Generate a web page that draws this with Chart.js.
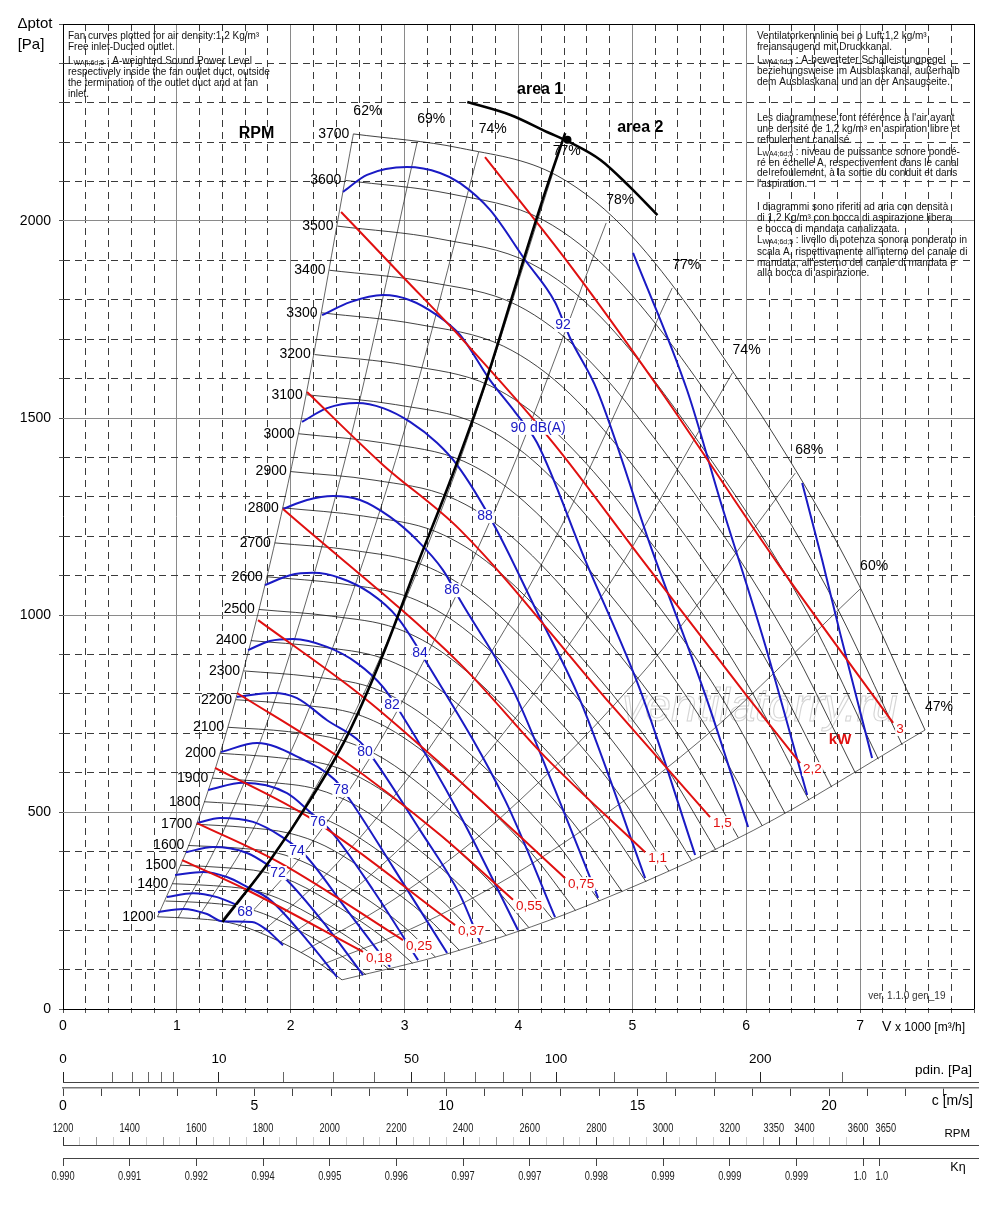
<!DOCTYPE html>
<html>
<head>
<meta charset="utf-8">
<script src="https://cdn.jsdelivr.net/npm/chart.js@4.4.1/dist/chart.umd.min.js"></script>
<style>
  html, body { margin: 0; padding: 0; background: #fff; }
  canvas { display: block; }
</style>
</head>
<body>
<canvas id="fanChart" width="1000" height="1040"></canvas>
<canvas id="flowScales" width="1000" height="76"></canvas>
<canvas id="speedScales" width="1000" height="103"></canvas>
<script>
const FONT = "'Liberation Sans', Arial, Helvetica, sans-serif";
Chart.defaults.font.family = FONT;
Chart.defaults.color = "#000";

// ---- values: V [1000 m3/h], ptot [Pa] ----

// fan speed curves (thin black)
const rpmSpeeds = [1200, 1300, 1400, 1500, 1600, 1700, 1800, 1900, 2000, 2100, 2200, 2300, 2400,
  2500, 2600, 2700, 2800, 2900, 3000, 3100, 3200, 3300, 3400, 3500, 3600, 3700];
const rpmCurves = [
  [[0.83,234],[1.13,230],[1.41,222],[1.62,206],[1.96,163],[2.24,118],[2.45,74]],
  [[0.90,274],[1.23,270],[1.52,261],[1.76,242],[2.12,192],[2.43,138],[2.66,87]],
  [[0.96,318],[1.32,313],[1.64,303],[1.89,281],[2.28,222],[2.61,161],[2.86,101]],
  [[1.03,365],[1.41,359],[1.76,348],[2.03,322],[2.44,255],[2.80,184],[3.07,116]],
  [[1.10,415],[1.51,409],[1.88,396],[2.16,367],[2.61,290],[2.99,210],[3.27,132]],
  [[1.17,469],[1.60,461],[1.99,446],[2.30,414],[2.77,328],[3.18,237],[3.48,149]],
  [[1.24,526],[1.70,517],[2.11,501],[2.43,464],[2.93,368],[3.36,266],[3.68,168]],
  [[1.31,586],[1.79,576],[2.23,558],[2.57,517],[3.10,410],[3.55,296],[3.89,187]],
  [[1.38,649],[1.89,638],[2.35,618],[2.70,573],[3.26,454],[3.73,328],[4.09,207]],
  [[1.45,715],[1.98,704],[2.46,681],[2.84,631],[3.42,500],[3.92,361],[4.30,228]],
  [[1.52,785],[2.08,772],[2.58,748],[2.97,693],[3.59,549],[4.11,397],[4.50,250]],
  [[1.59,858],[2.17,844],[2.70,817],[3.11,757],[3.75,600],[4.30,434],[4.71,274]],
  [[1.65,935],[2.26,919],[2.81,890],[3.24,825],[3.91,654],[4.48,472],[4.91,298]],
  [[1.72,1014],[2.36,997],[2.93,966],[3.38,895],[4.07,709],[4.67,512],[5.12,323]],
  [[1.79,1097],[2.45,1079],[3.05,1044],[3.51,968],[4.24,767],[4.86,554],[5.32,350]],
  [[1.86,1183],[2.55,1164],[3.17,1126],[3.65,1044],[4.40,827],[5.04,597],[5.52,377]],
  [[1.93,1272],[2.64,1251],[3.28,1211],[3.78,1122],[4.56,889],[5.23,643],[5.73,405]],
  [[2.00,1364],[2.74,1342],[3.40,1299],[3.92,1204],[4.73,954],[5.42,689],[5.93,435]],
  [[2.07,1460],[2.83,1436],[3.52,1390],[4.05,1288],[4.89,1021],[5.60,738],[6.14,465]],
  [[2.14,1559],[2.92,1534],[3.64,1485],[4.19,1376],[5.05,1090],[5.79,788],[6.34,497]],
  [[2.21,1661],[3.02,1634],[3.75,1582],[4.32,1466],[5.22,1162],[5.98,839],[6.55,530]],
  [[2.27,1767],[3.11,1738],[3.87,1682],[4.46,1559],[5.38,1235],[6.16,893],[6.75,563]],
  [[2.34,1875],[3.21,1845],[3.99,1786],[4.59,1655],[5.54,1311],[6.35,947],[6.96,598]],
  [[2.41,1987],[3.30,1955],[4.11,1892],[4.73,1754],[5.70,1390],[6.54,1004],[7.16,634]],
  [[2.48,2103],[3.40,2069],[4.22,2002],[4.86,1855],[5.87,1470],[6.72,1062],[7.37,670]],
  [[2.55,2221],[3.49,2185],[4.34,2115],[5.00,1960],[6.03,1553],[6.91,1122],[7.57,708]]
];

// efficiency lines (thin black), bottom -> top
const effLabels = ["62%", "69%", "74%", "77%", "78%", "77%", "74%", "68%", "60%", "47%"];
const effLines = [
  [[0.83,234],[1.15,450],[1.53,800],[2.04,1421],[2.55,2221]],
  [[1.01,231],[1.40,446],[1.87,792],[2.49,1408],[3.11,2200]],
  [[1.18,229],[1.64,440],[2.19,783],[2.92,1392],[3.65,2175]],
  [[1.39,223],[1.94,429],[2.58,763],[3.44,1357],[4.30,2120]],
  [[1.54,209],[2.14,405],[2.86,718],[3.81,1278],[4.77,1995]],
  [[1.74,193],[2.41,371],[3.21,659],[4.28,1171],[5.35,1830]],
  [[1.91,170],[2.65,327],[3.53,581],[4.70,1034],[5.88,1615]],
  [[2.09,143],[2.89,275],[3.86,490],[5.14,870],[6.43,1360]],
  [[2.27,112],[3.15,216],[4.20,384],[5.60,682],[7.00,1066]],
  [[2.45,74],[3.41,143],[4.54,255],[6.06,453],[7.57,708]]
];

// absorbed power lines (red), kW
const kwLabels = ["0,18", "0,25", "0,37", "0,55", "0,75", "1,1", "1,5", "2,2", "3"];
const kwLines = [
  [[1.045,378],[1.616,302],[2.635,145]],
  [[1.177,472],[1.906,371],[2.986,175]],
  [[1.335,612],[2.169,485],[3.443,213]],
  [[1.528,802],[2.433,637],[3.311,442],[3.952,277]],
  [[1.713,987],[2.635,792],[3.311,624],[4.409,332]],
  [[1.932,1269],[3.487,876],[4.233,640],[5.112,398]],
  [[2.143,1566],[2.810,1381],[3.487,1216],[4.778,784],[5.682,487]],
  [[2.442,2023],[2.986,1858],[3.487,1706],[4.304,1437],[5.068,1147],[6.007,794],[6.473,624]],
  [[3.706,2162],[4.470,1881],[5.243,1571],[6.297,1122],[7.290,726]]
];

// sound power lines (blue), dB(A)
const dbLabels = ["68", "72", "74", "76", "78", "80", "82", "84", "86", "88", "90 dB(A)", "92"];
const dbLabelAt = [[1.599,246],[1.888,345],[2.055,401],[2.240,475],[2.442,556],[2.652,652],
  [2.890,772],[3.136,904],[3.416,1063],[3.706,1251],[4.172,1475],[4.391,1736]];
const dbLines = [
  [[0.834,246],[1.054,254],[1.265,241],[1.396,223],[1.660,221],[1.792,200],[1.932,162]],
  [[1.080,398],[1.317,411],[1.616,396],[1.801,365],[1.967,327],[2.319,208],[2.635,86]],
  [[1.177,472],[1.379,485],[1.669,475],[1.923,437],[2.125,391],[2.494,251],[2.872,107]],
  [[1.274,556],[1.581,574],[1.967,548],[2.169,500],[2.345,454],[2.723,302],[3.118,124]],
  [[1.388,652],[1.704,675],[2.082,637],[2.389,581],[2.503,538],[2.898,360],[3.373,142]],
  [[1.528,792],[1.844,802],[2.055,789],[2.319,733],[2.609,678],[2.714,640],[3.135,454],[3.487,289],[3.662,170]],
  [[1.625,911],[1.818,934],[2.020,939],[2.319,919],[2.582,878],[2.811,817],[2.960,754],[3.487,492],[3.996,200]],
  [[1.774,1076],[1.994,1101],[2.196,1107],[2.433,1094],[2.696,1056],[2.933,995],[3.206,873],[3.882,530],[4.321,233]],
  [[1.932,1269],[2.143,1292],[2.372,1302],[2.609,1292],[2.872,1249],[3.109,1190],[3.337,1114],[3.487,1038],[3.952,810],[4.321,556],[4.699,282]],
  [[2.099,1490],[2.319,1525],[2.582,1538],[2.811,1525],[3.048,1490],[3.284,1437],[3.460,1381],[3.777,1233],[4.154,1013],[4.541,784],[5.112,332]],
  [[2.275,1761],[2.521,1794],[2.811,1812],[3.048,1799],[3.284,1761],[3.487,1711],[3.750,1596],[3.970,1515],[4.163,1437],[4.585,1140],[5.068,810],[5.551,391]],
  [[2.459,2074],[2.670,2117],[3.021,2137],[3.311,2122],[3.487,2096],[3.750,2028],[4.058,1901],[4.321,1794],[4.453,1703],[4.690,1571],[5.156,1178],[5.656,784],[6.016,462]]
];
const dbExtraLines = [
  [[0.913,284],[1.142,294],[1.353,284],[1.511,266]],
  [[0.984,340],[1.230,348],[1.440,335],[1.616,310],[1.818,277],[2.143,175],[2.407,81]],
  [[5.006,1919],[5.480,1571],[5.770,1292],[6.166,924],[6.535,543]],
  [[6.491,1335],[6.666,1140],[6.824,954],[7.105,637]]
];

// area 1 / area 2 limits (thick black)
const areaLine = [[1.40,221],[1.82,378],[2.17,530],[2.49,690],[2.81,900],[3.10,1120],
  [3.40,1340],[3.71,1590],[4.00,1860],[4.22,2061],[4.41,2223]];
const areaArc = [[3.55,2302],[3.93,2269],[4.25,2226],[4.45,2200],[4.72,2155],[4.98,2086],[5.22,2015]];
const areaJunction = [[4.43,2206]];

// bottom scales
const pdinTicks = [0, 1, 2, 3, 4, 5, 10, 20, 30, 40, 50, 60, 70, 80, 90, 100, 125, 150, 175, 200, 250];
const pdinLabels = [0, 10, 50, 100, 200];
const velLabels = [0, 5, 10, 15, 20];
const rpmScaleLabels = [1200, 1400, 1600, 1800, 2000, 2200, 2400, 2600, 2800, 3000, 3200, 3350, 3400, 3600, 3650];
const kEtaRpm = [1200, 1400, 1600, 1800, 2000, 2200, 2400, 2600, 2800, 3000, 3200, 3400, 3600, 3650];
const kEtaLabels = ["0.990", "0.991", "0.992", "0.994", "0.995", "0.996", "0.997", "0.997",
  "0.998", "0.999", "0.999", "0.999", "1.0", "1.0"];

// ---- notes printed on the sheet ----
const noteLeft = [
  "Fan curves plotted for air density:1,2 Kg/m³",
  "Free inlet-Ducted outlet.",
  "~ : A-weighted Sound Power Level",
  "respectively inside the fan outlet duct, outside",
  "the termination of the outlet duct and at fan",
  "inlet."
];
const noteLeftY = [36, 47, 61, 72, 83, 94];
const noteRight = [
  "Ventilatorkennlinie bei ρ Luft:1,2 kg/m³",
  "freiansaugend mit Druckkanal.",
  "~ : A-bewerteter Schalleistungpegel",
  "beziehungsweise im Ausblaskanal, außerhalb",
  "dem Ausblaskanal und an der Ansaugseite.",
  "Les diagrammese font référence à l'air ayant",
  "une densité de 1,2 kg/m³ en aspiration libre et",
  "refoulement canalisé.",
  "~ : niveau de puissance sonore pondé-",
  "ré en échelle A, respectivement dans le canal",
  "de refoulement, à la sortie du conduit et dans",
  "l'aspiration.",
  "I diagrammi sono riferiti ad aria con densità",
  "di 1,2 Kg/m³ con bocca di aspirazione libera",
  "e bocca di mandata canalizzata.",
  "~ : livello di potenza sonora ponderato in",
  "scala A, rispettivamente all'interno del canale di",
  "mandata, all'esterno del canale di mandata e",
  "alla bocca di aspirazione."
];
const noteRightY = [36, 47, 60, 71, 82, 118, 129, 140, 152, 163, 173, 184, 207, 218, 229, 240, 252, 263, 273];

const BLUE = "#1a1ac4";
const RED = "#e01010";

function toXY(pts) {
  return pts.map(([x, y]) => ({ x, y }));
}

function lineSet(pts, color, width, order) {
  return {
    data: toXY(pts),
    showLine: true,
    borderColor: color,
    backgroundColor: color,
    borderWidth: width,
    pointRadius: 0,
    pointHoverRadius: 0,
    cubicInterpolationMode: "monotone",
    order: order
  };
}

const datasets = [];
rpmCurves.forEach(c => datasets.push(lineSet(c, "#111", 0.8, 5)));
effLines.forEach(c => datasets.push(lineSet(c, "#222", 0.7, 5)));
dbLines.forEach(c => datasets.push(lineSet(c, BLUE, 2, 3)));
dbExtraLines.forEach(c => datasets.push(lineSet(c, BLUE, 2, 3)));
kwLines.forEach(c => datasets.push(lineSet(c, RED, 2, 2)));
datasets.push(lineSet(areaLine, "#000", 2.6, 1));
datasets.push(lineSet(areaArc, "#000", 2.6, 1));
datasets.push({ data: toXY(areaJunction), pointRadius: 4, backgroundColor: "#000", borderWidth: 0, order: 0 });

function isWhole(v) {
  return Math.abs(v - Math.round(v)) < 1e-6;
}

function labelBox(ctx, text, px, py, color, align) {
  const w = ctx.measureText(text).width;
  const left = align === "left" ? px : px - w / 2;
  ctx.fillStyle = "#fff";
  ctx.fillRect(left - 1, py - 7, w + 2, 14);
  ctx.fillStyle = color;
  ctx.textAlign = align;
  ctx.fillText(text, px, py);
}

function noteLine(ctx, text, x, y) {
  if (text.startsWith("~")) {
    ctx.font = "10px " + FONT;
    ctx.fillText("L", x, y);
    let cx = x + ctx.measureText("L").width;
    ctx.font = "7px " + FONT;
    ctx.fillText("WA4;6d;5", cx, y + 2);
    cx += ctx.measureText("WA4;6d;5").width;
    ctx.font = "10px " + FONT;
    ctx.fillText(text.slice(1), cx, y);
  } else {
    ctx.font = "10px " + FONT;
    ctx.fillText(text, x, y);
  }
}

const annotate = {
  id: "annotate",
  beforeDatasetsDraw(chart) {
    const { ctx, scales: { x, y } } = chart;
    ctx.save();
    ctx.font = "italic 46px " + FONT;
    ctx.textAlign = "center";
    ctx.textBaseline = "middle";
    ctx.lineWidth = 1.1;
    ctx.strokeStyle = "rgba(160,160,160,0.45)";
    ctx.strokeText("ventilatorry.ru", x.getPixelForValue(6.12), y.getPixelForValue(764));
    ctx.restore();
  },
  afterDatasetsDraw(chart) {
    const { ctx, scales: { x, y } } = chart;
    const px = v => x.getPixelForValue(v);
    const py = v => y.getPixelForValue(v);
    ctx.save();
    ctx.textBaseline = "middle";

    // speed labels at the left end of each curve
    ctx.font = "14px " + FONT;
    ctx.fillStyle = "#000";
    ctx.textAlign = "right";
    rpmCurves.forEach((c, i) => {
      if (rpmSpeeds[i] === 1300) return;
      ctx.fillText(String(rpmSpeeds[i]), px(c[0][0]) - 4, py(c[0][1]));
    });

    // efficiency labels beyond the top of each line
    ctx.textAlign = "center";
    effLines.forEach((c, i) => {
      const top = c[c.length - 1];
      ctx.fillText(effLabels[i], px(top[0]) + 14, py(top[1]) - 23);
    });

    // sound labels
    ctx.font = "14px " + FONT;
    dbLabels.forEach((t, i) => {
      labelBox(ctx, t, px(dbLabelAt[i][0]), py(dbLabelAt[i][1]), BLUE, "center");
    });

    // power labels after the end of each red line
    ctx.font = "13.5px " + FONT;
    kwLines.forEach((c, i) => {
      const end = c[c.length - 1];
      labelBox(ctx, kwLabels[i], px(end[0]) + 3, py(end[1]) + 6, RED, "left");
    });

    ctx.textAlign = "center";
    ctx.font = "bold 15px " + FONT;
    ctx.fillStyle = RED;
    ctx.fillText("kW", px(6.824), py(683));

    ctx.fillStyle = "#000";
    ctx.font = "bold 16px " + FONT;
    ctx.fillText("area 1", px(4.19), py(2333));
    ctx.fillText("area 2", px(5.07), py(2236));
    ctx.fillText("RPM", px(1.70), py(2223));

    ctx.font = "10px " + FONT;
    ctx.fillStyle = "#333";
    ctx.fillText("ver. 1.1.0 gen_19", px(7.41), py(33));

    // notes
    ctx.fillStyle = "#111";
    ctx.textAlign = "left";
    noteLeft.forEach((t, i) => noteLine(ctx, t, 68, noteLeftY[i]));
    noteRight.forEach((t, i) => noteLine(ctx, t, 757, noteRightY[i]));
    ctx.restore();
  },
  afterDraw(chart) {
    const { ctx } = chart;
    ctx.save();
    ctx.fillStyle = "#000";
    ctx.textBaseline = "middle";
    ctx.textAlign = "center";
    ctx.font = "15px " + FONT;
    ctx.fillText("Δptot", 35, 24);
    ctx.fillText("[Pa]", 31, 45);
    ctx.textAlign = "left";
    ctx.font = "14px " + FONT;
    ctx.fillText("V", 882, 1027);
    ctx.font = "12px " + FONT;
    ctx.fillText("x 1000 [m³/h]", 895, 1028);
    ctx.restore();
  }
};

const xTickValues = [];
for (let i = 0; i <= 40; i++) xTickValues.push(Math.round(i * 2) / 10);
const yTickValues = [];
for (let p = 0; p <= 2500; p += 100) yTickValues.push(p);

new Chart(document.getElementById("fanChart"), {
  type: "scatter",
  data: { datasets: datasets },
  options: {
    responsive: false,
    animation: false,
    events: [],
    layout: { padding: { top: 24, right: 26, left: 0, bottom: 0 } },
    plugins: { legend: { display: false }, tooltip: { enabled: false } },
    scales: {
      x: {
        type: "linear",
        min: 0,
        max: 8,
        afterBuildTicks(s) { s.ticks = xTickValues.map(v => ({ value: v })); },
        afterFit(s) { s.height = 31; },
        ticks: {
          autoSkip: false,
          maxRotation: 0,
          padding: 5,
          font: { size: 14 },
          color: "#000",
          callback: v => (isWhole(v) && v < 7.5 ? String(Math.round(v)) : "")
        },
        grid: {
          lineWidth: 1,
          tickLength: 4,
          tickColor: "#555",
          color: ctx => {
            const v = ctx.tick ? ctx.tick.value : 0;
            if (v === 0 || v === 8) return "#000";
            return isWhole(v) ? "#8a8a8a" : "#3a3a3a";
          }
        },
        border: { display: false, dash: ctx => (ctx.tick && !isWhole(ctx.tick.value) ? [7, 5] : []) }
      },
      y: {
        type: "linear",
        min: 0,
        max: 2500,
        afterBuildTicks(s) { s.ticks = yTickValues.map(v => ({ value: v })); },
        afterFit(s) { s.width = 63; },
        ticks: {
          autoSkip: false,
          padding: 8,
          font: { size: 14 },
          color: "#000",
          callback: v => (v % 500 === 0 && v < 2500 ? String(v) : "")
        },
        grid: {
          lineWidth: 1,
          tickLength: 4,
          tickColor: "#555",
          color: ctx => {
            const v = ctx.tick ? ctx.tick.value : 0;
            if (v === 0 || v === 2500) return "#000";
            return v % 500 === 0 ? "#8a8a8a" : "#3a3a3a";
          }
        },
        border: { display: false, dash: ctx => (ctx.tick && ctx.tick.value % 500 !== 0 ? [7, 5] : []) }
      }
    }
  },
  plugins: [annotate]
});

// ---- auxiliary scales under the diagram ----
const SCALE_WIDTH = 915;          // px from V = 0 to the right end of the scale lines
const pdinSpan = SCALE_WIDTH / 49.3;   // sqrt(Pa)
const velSpan = SCALE_WIDTH / 38.3;    // m/s
const rpmSpanMax = 1200 + SCALE_WIDTH / 0.3334;

const velTickValues = [];
for (let c = 0; c <= 23; c++) velTickValues.push(c);
const rpmTickValues = [];
for (let n = 1200; n <= 3650; n += 50) rpmTickValues.push(n);

const unitText = (items) => ({
  id: "unitText",
  afterDraw(chart) {
    const ctx = chart.ctx;
    ctx.save();
    ctx.fillStyle = "#000";
    ctx.textBaseline = "middle";
    items.forEach(([t, x, y, size, align]) => {
      ctx.font = size + "px " + FONT;
      ctx.textAlign = align;
      ctx.fillText(t, x, y);
    });
    ctx.restore();
  }
});

// condensed tick labels for the speed / K-eta scales, placed by the scale itself
const narrowLabels = {
  id: "narrowLabels",
  afterDraw(chart) {
    const { ctx } = chart;
    const rpmScale = chart.scales.x;
    const kScale = chart.scales.k;
    const nudgeRpm = { 3350: -6, 3400: 8, 3600: -5, 3650: 6 };
    const nudgeK = { 3600: -3, 3650: 2 };
    ctx.save();
    ctx.fillStyle = "#222";
    ctx.textAlign = "center";
    ctx.textBaseline = "middle";
    ctx.font = "12.5px " + FONT;
    const put = (t, x, y) => {
      ctx.save();
      ctx.translate(x, y);
      ctx.scale(0.74, 1);
      ctx.fillText(t, 0, 0);
      ctx.restore();
    };
    rpmScaleLabels.forEach(n => put(String(n), rpmScale.getPixelForValue(n) + (nudgeRpm[n] || 0), 13));
    kEtaRpm.forEach((n, i) => put(kEtaLabels[i], kScale.getPixelForValue(n) + (nudgeK[n] || 0), 61));
    ctx.restore();
  }
};

const axisBase = {
  responsive: false,
  animation: false,
  events: [],
  layout: { padding: { left: 63, right: 22, top: 0, bottom: 0 } },
  plugins: { legend: { display: false }, tooltip: { enabled: false } }
};

new Chart(document.getElementById("flowScales"), {
  type: "scatter",
  data: { datasets: [] },
  options: Object.assign({}, axisBase, {
    scales: {
      y: { display: false, min: 0, max: 1 },
      x: {
        type: "linear",
        position: "top",
        bounds: "data",
        min: 0,
        max: pdinSpan,
        afterBuildTicks(s) { s.ticks = pdinTicks.map(p => ({ value: Math.sqrt(p) })); },
        afterFit(s) { s.height = 42; },
        ticks: {
          autoSkip: false,
          maxRotation: 0,
          padding: 5,
          font: { size: 13.5 },
          color: "#000",
          callback: v => {
            const p = Math.round(v * v);
            return pdinLabels.includes(p) ? String(p) : "";
          }
        },
        grid: {
          drawOnChartArea: false,
          tickLength: 10,
          tickColor: ctx => {
            const p = ctx.tick ? Math.round(ctx.tick.value * ctx.tick.value) : 0;
            return pdinLabels.includes(p) ? "#222" : "#666";
          }
        },
        border: { display: true, color: "#444", width: 1 }
      },
      c: {
        axis: "x",
        type: "linear",
        position: "bottom",
        bounds: "data",
        min: 0,
        max: velSpan,
        afterBuildTicks(s) { s.ticks = velTickValues.map(v => ({ value: v })); },
        afterFit(s) { s.height = 28; },
        ticks: {
          autoSkip: false,
          maxRotation: 0,
          padding: 2,
          font: { size: 14 },
          color: "#000",
          callback: v => (velLabels.includes(v) ? String(v) : "")
        },
        grid: { drawOnChartArea: false, tickLength: 8, tickColor: "#444" },
        border: { display: true, color: "#777", width: 1.5 }
      }
    }
  }),
  plugins: [unitText([["pdin. [Pa]", 972, 30, 13.5, "right"], ["c [m/s]", 973, 61, 14, "right"]])]
});

new Chart(document.getElementById("speedScales"), {
  type: "scatter",
  data: { datasets: [] },
  options: Object.assign({}, axisBase, {
    scales: {
      y: { display: false, min: 0, max: 1 },
      x: {
        type: "linear",
        position: "top",
        bounds: "data",
        min: 1200,
        max: rpmSpanMax,
        afterBuildTicks(s) { s.ticks = rpmTickValues.map(v => ({ value: v })); },
        afterFit(s) { s.height = 29; },
        ticks: { autoSkip: false, maxRotation: 0, padding: 1, font: { size: 11 }, callback: () => "" },
        grid: {
          drawOnChartArea: false,
          tickLength: 8,
          tickColor: ctx => {
            const v = ctx.tick ? ctx.tick.value : 0;
            if (rpmScaleLabels.includes(v)) return "#333";
            return v % 100 === 0 ? "#999" : "#ccc";
          }
        },
        border: { display: true, color: "#444", width: 1 }
      },
      k: {
        axis: "x",
        type: "linear",
        position: "bottom",
        bounds: "data",
        min: 1200,
        max: rpmSpanMax,
        afterBuildTicks(s) { s.ticks = kEtaRpm.map(v => ({ value: v })); },
        afterFit(s) { s.height = 61; },
        ticks: { autoSkip: false, maxRotation: 0, padding: 4, font: { size: 11 }, callback: () => "" },
        grid: { drawOnChartArea: false, tickLength: 8, tickColor: "#444" },
        border: { display: true, color: "#444", width: 1 }
      }
    }
  }),
  plugins: [narrowLabels, unitText([["RPM", 970, 18, 11.5, "right"], ["Kη", 958, 52, 12.5, "center"]])]
});
</script>
</body>
</html>
